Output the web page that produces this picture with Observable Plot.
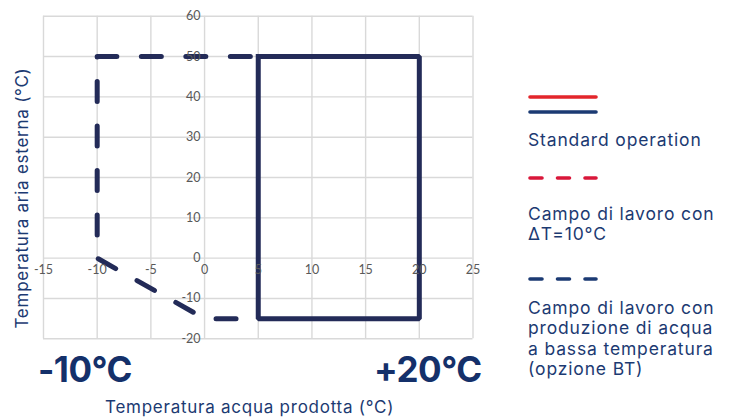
<!DOCTYPE html>
<html><head><meta charset="utf-8">
<script src="https://cdn.jsdelivr.net/npm/d3@7"></script>
<script src="https://cdn.jsdelivr.net/npm/@observablehq/plot@0.6"></script>
<style>
html,body{margin:0;padding:0;background:#fff;}
#wrap{position:relative;width:739px;height:418px;overflow:hidden;font-family:Inter,"Noto Sans",sans-serif;}
.navy{color:#1c3a72;}
.abs{position:absolute;white-space:nowrap;}
.big{font-weight:700;font-size:35px;letter-spacing:-0.5px;color:#14306a;line-height:1;}
.leg{position:absolute;left:528px;font-size:17.5px;letter-spacing:0.85px;color:#1c3a72;line-height:20.5px;white-space:nowrap;}
</style></head>
<body><div id="wrap"></div>
<script>
// data
const xTicks = [-15, -10, -5, 0, 5, 10, 15, 20, 25];
const yTicks = [-20, -10, 0, 10, 20, 30, 40, 50, 60];
const standardX = [5, 20, 20, 5, 5];
const standardY = [50, 50, -15, -15, 50];
const btX = [5, 0, -10, -10, 5];
const btY = [-15, -15, 0, 50, 50];
const legendLabels = ["Standard operation", "Campo di lavoro con\nΔT=10°C", "Campo di lavoro con\nproduzione di acqua\na bassa temperatura\n(opzione BT)"];

const standard = standardX.map((x, i) => ({x, y: standardY[i]}));
const bt = btX.map((x, i) => ({x, y: btY[i]}));
const navyLine = "#232b58";
const gridColor = "#d9d9d9";

const chart = Plot.plot({
  width: 739, height: 418,
  marginLeft: 43, marginRight: 266.5, marginTop: 15.7, marginBottom: 79.7,
  x: {domain: [-15, 25], axis: null},
  y: {domain: [-20, 60], axis: null},
  style: {fontFamily: "Lato, 'Open Sans', sans-serif", background: "transparent"},
  marks: [
    Plot.ruleX(xTicks, {x: d => d, stroke: gridColor, strokeWidth: 1.4, strokeOpacity: 1}),
    Plot.ruleY(yTicks, {y: d => d, stroke: gridColor, strokeWidth: 1.4, strokeOpacity: 1}),
    Plot.line(bt, {x: "x", y: "y", stroke: navyLine, strokeWidth: 5, strokeDasharray: "20,24.5", strokeDashoffset: 22.3, strokeLinecap: "round", strokeLinejoin: "round"}),
    Plot.line(standard, {x: "x", y: "y", stroke: navyLine, strokeWidth: 5, strokeLinejoin: "miter", strokeLinecap: "square"}),
    Plot.text(yTicks, {x: 0, y: d => d, text: d => String(d), textAnchor: "end", dx: -4, fill: "#595959", fontSize: 12.5}),
    Plot.text(xTicks, {x: d => d, y: 0, text: d => String(d), textAnchor: "middle", dy: 12, fill: "#595959", fontSize: 12.5})
  ]
});
const wrap = document.getElementById("wrap");
chart.style.position = "absolute"; chart.style.left = "0"; chart.style.top = "0";
wrap.appendChild(chart);

function addDiv(cls, html, css){
  const d = document.createElement("div");
  d.className = cls; d.innerHTML = html; Object.assign(d.style, css); wrap.appendChild(d); return d;
}
// axis titles
addDiv("abs navy", "Temperatura acqua prodotta (°C)", {left:"105px", top:"397px", fontSize:"17px", letterSpacing:"0.75px", lineHeight:"20px"});
addDiv("abs navy", "Temperatura aria esterna (°C)", {left:"22px", top:"197.5px", fontSize:"17px", letterSpacing:"0.75px", lineHeight:"20px", transform:"translate(-50%,-50%) rotate(-90deg)"});
// big labels
addDiv("abs big", "-10°C", {left:"38px", top:"352px"});
addDiv("abs big", "+20°C", {left:"374px", top:"352px"});

// legend
function legLine(y, color, dash){
  return `<svg class="abs" style="left:526px;top:${y-4}px" width="76" height="8"><line x1="4" x2="70" y1="4" y2="4" stroke="${color}" stroke-width="3.6" stroke-linecap="round" ${dash ? 'stroke-dasharray="12,15.5"' : ''}/></svg>`;
}
wrap.insertAdjacentHTML("beforeend",
  legLine(96.7, "#e3262b", false) + legLine(111.5, "#1b3a73", false) +
  legLine(177.7, "#d9173a", true) + legLine(279, "#1b3a73", true));
addDiv("leg", legendLabels[0].replace(/\n/g, "<br>"), {top:"130px"});
addDiv("leg", legendLabels[1].replace(/\n/g, "<br>"), {top:"204px", lineHeight:"19.5px"});
addDiv("leg", legendLabels[2].replace(/\n/g, "<br>"), {top:"297.5px"});
</script></body></html>
